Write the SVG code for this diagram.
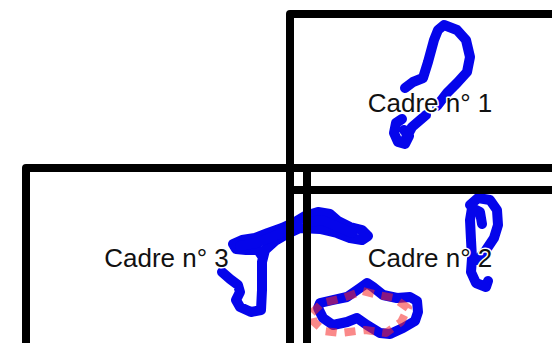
<svg xmlns="http://www.w3.org/2000/svg" width="552" height="343" viewBox="0 0 552 343">
<style>
.frame{fill:none;stroke:#000;stroke-width:8;stroke-linejoin:round}
.lbl{font-family:"Liberation Sans",Arial,sans-serif;font-size:26px;fill:#111;text-anchor:middle;stroke:#fff;stroke-width:3;paint-order:stroke;stroke-linejoin:round}
.ink{fill:none;stroke:#0505eb;stroke-width:10;stroke-linecap:round;stroke-linejoin:round}
.hl{fill:none;stroke:rgba(245,40,40,0.55);stroke-width:8;stroke-dasharray:11 8;stroke-linejoin:round}
</style>
<rect width="552" height="343" fill="#fff"/>
<g id="annotations">
<path class="ink" d="M405 88 L413 82 L423 78 L428 62 L434 40 L438 30 L444 25 L457 30 L466 40 L470 57 L467 72 L457 83 L447 93 L437 106"/>
<path class="ink" d="M426 115 L412 127 L406 138 M402 119 L396 123 L394 133 L398 142 L405 144 L409 136 L404 130"/>
<path class="ink" d="M222 272 L230 279 L238 285 L240 292 L236 300 L240 307 L251 312 L261 310 L262 290 L262 262 L265 250 L275 241 L287 234 L300 228 L320 229 L337 233 L350 238 L362 240 L368 236 L362 230 L350 227 L338 221 L330 214 L318 212 L305 216 L295 222 L282 228 L268 233 L255 238 L242 240 L233 244 L236 249 L246 250 L258 250 L262 256"/>
<path class="ink" d="M240 246 L256 243 L272 237 L290 229 M310 222 L322 220 L336 226 L352 233"/>
<path class="ink" d="M320 303 L333 300 L347 297 L360 288 L367 283 L373 287 L383 295 L397 298 L410 297 L417 301 L418 312 L415 321 L403 328 L390 334 L380 333 L367 325 L357 318 L347 322 L333 325 L323 318 L318 308 Z"/>
<path class="ink" d="M482 224 L480 212 L472 208 L470 220 L471 240 L472 258 L471 272 L476 283 L486 287 L488 281 M470 205 L478 198 L490 200 L497 210 L498 225 L494 238 L486 250 L478 260"/>
<path class="hl" d="M312 313 L322 303 L343 298 L363 291 L378 295 L394 298 L408 308 L401 322 L386 333 L365 330 L340 333 L324 331 L314 322 Z"/>
</g>
<g id="cadre1">
<rect class="frame" x="290" y="14" width="290" height="154"/>
<text class="lbl" x="430" y="112">Cadre n° 1</text>
</g>
<g id="cadre3">
<rect class="frame" x="26" y="168" width="264" height="200"/>
<text class="lbl" x="166.5" y="267">Cadre n° 3</text>
</g>
<g id="cadre2">
<rect class="frame" x="307" y="190" width="270" height="190"/>
<path class="frame" d="M307 168 V190 M290 190 H307"/>
<text class="lbl" x="430" y="267">Cadre n° 2</text>
</g>
</svg>
